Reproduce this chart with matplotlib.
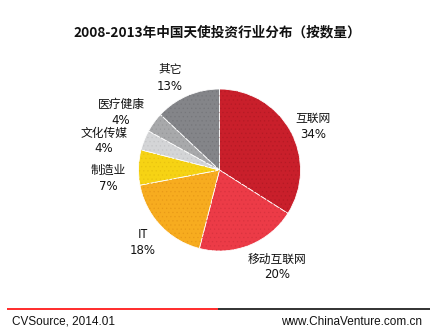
import matplotlib.pyplot as plt

plt.rcParams['font.family'] = ['Noto Sans CJK SC', 'DejaVu Sans']
plt.rcParams['hatch.linewidth'] = 0.4

# 2008-2013 angel investment by industry (share of deal count, %)
industries = ["互联网", "移动互联网", "IT", "制造业", "文化传媒", "医疗健康", "其它"]
shares = [34, 20, 18, 7, 4, 4, 13]
colors = ["#C91F2B", "#EC3B47", "#F7AC1F", "#F6D314", "#D4D5D7", "#A8A9AB", "#848589"]
dot_colors = ["#B51A25", "#D9333F", "#E89A18", "#E8C210", "#C4C5C7", "#98999B", "#76777B"]

# label anchors in pixels (x from left, y from top)
label_pos = [(313, 118), (277, 259), (143, 235), (108, 170), (104, 133), (121, 104), (170, 70)]

W, H = 434, 334
fig = plt.figure(figsize=(W / 100, H / 100), dpi=100)
ax = fig.add_axes([0, 0, 1, 1])

wedges, _ = ax.pie(shares, colors=colors, startangle=90, counterclock=False,
                   center=(219.5, H - 170), radius=81,
                   wedgeprops=dict(edgecolor="white", linewidth=0.6))
# fine stipple on each slice
dots, _ = ax.pie(shares, colors=colors, startangle=90, counterclock=False,
                 center=(219.5, H - 170), radius=80.6,
                 wedgeprops=dict(linewidth=0, hatch="...."))
for w, c in zip(dots, dot_colors):
    w.set_edgecolor(c)
    w.set_facecolor("none")

ax.set_xlim(0, W)
ax.set_ylim(0, H)
ax.set_aspect("equal")
ax.axis("off")

for name, val, (x, y) in zip(industries, shares, label_pos):
    ax.text(x, H - y, name, ha="center", va="center", fontsize=8.5, color="#111111")
    ax.text(x, H - y - 16, f"{val}%", ha="center", va="center", fontsize=8.5,
            color="#111111", family=["DejaVu Sans"])

ax.text(217, H - 32, "2008-2013年中国天使投资行业分布（按数量）", ha="center", va="center",
        fontsize=9.8, fontweight="bold", color="#111111")

# footer rule and source lines
ax.plot([7, 218], [H - 309, H - 309], color="#FF1A1A", linewidth=1.3, solid_capstyle="butt")
ax.plot([218, 430], [H - 309, H - 309], color="#222222", linewidth=1.3, solid_capstyle="butt")
ax.text(12, H - 322, "CVSource, 2014.01", ha="left", va="center", fontsize=8.5,
        family=["Liberation Sans"], color="#111111")
ax.text(422, H - 322, "www.ChinaVenture.com.cn", ha="right", va="center", fontsize=8.5,
        family=["Liberation Sans"], color="#111111")

fig.savefig("out.png", dpi=100)
